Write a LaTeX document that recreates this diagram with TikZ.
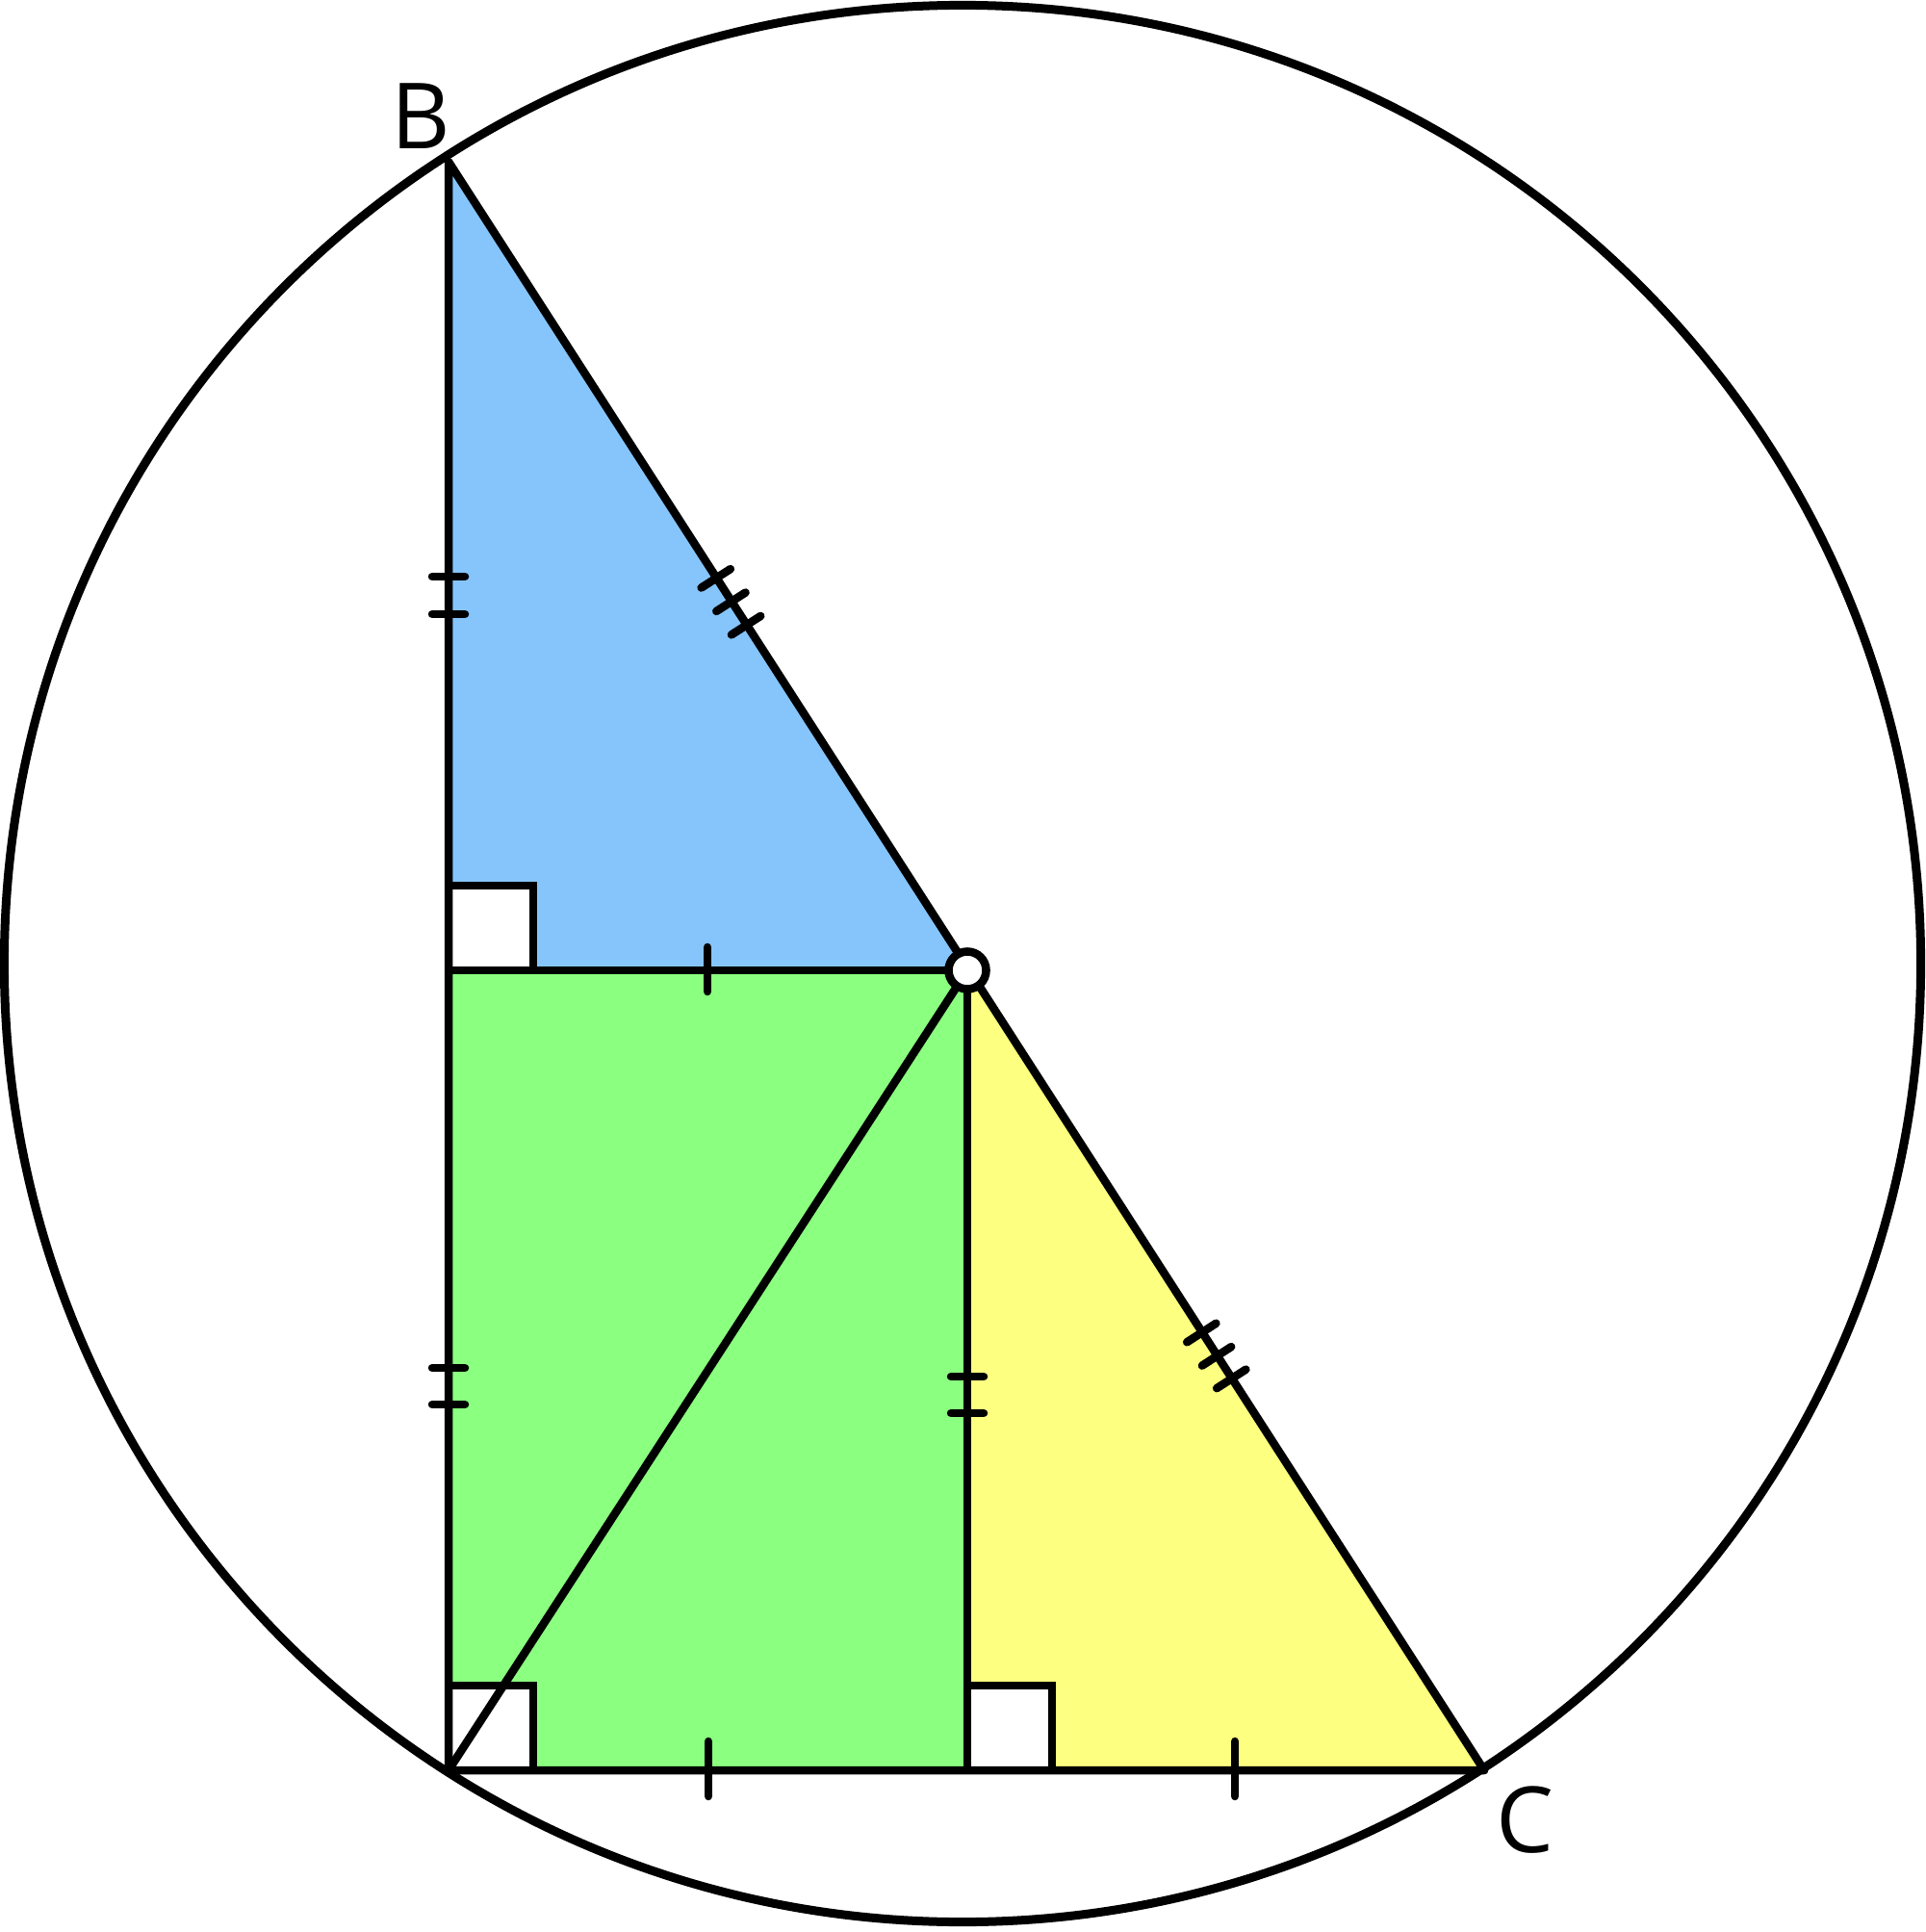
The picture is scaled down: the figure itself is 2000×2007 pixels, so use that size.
\documentclass[tikz,border=0pt]{standalone}
\usepackage{fontspec}
\setmainfont{Open Sans}
\usetikzlibrary{calc}
\definecolor{triblue}{RGB}{133,197,252}
\definecolor{trigreen}{RGB}{139,255,128}
\definecolor{triyellow}{RGB}{253,255,128}
\tikzset{
  ln/.style={line width=0.085cm, line join=round},
  tick/.style={line width=0.085cm, line cap=round},
  sq/.style={line width=0.085cm, fill=white},
  lbl/.style={inner sep=0pt, font=\fontsize{27}{27}\selectfont}
}
\begin{document}
\begin{tikzpicture}[x=0.01cm,y=-0.01cm]
\useasboundingbox (0,0) rectangle (2000,2007);
\fill[white] (0,0) rectangle (2000,2007);
% points
\coordinate (B) at (466,168);
\coordinate (A) at (466,1839);
\coordinate (C) at (1542,1839);
\coordinate (O) at (1005,1008);
\coordinate (M) at (466,1008);
\coordinate (D) at (1005,1839);
\coordinate (Z) at (1000,1001);
% fills
\fill[triblue] (B) -- (M) -- (O) -- cycle;
\fill[trigreen] (M) -- (O) -- (D) -- (A) -- cycle;
\fill[triyellow] (O) -- (D) -- (C) -- cycle;
% circle
\draw[line width=0.09cm] (Z) circle[radius=9.95cm];
% right angle squares
\draw[sq] (M) rectangle ++(88,-88);
\draw[sq] (A) rectangle ++(88,-88);
\draw[sq] (D) rectangle ++(88,-88);
% main lines
\draw[ln] (B) -- (A) -- (C) -- cycle;
\draw[ln] (M) -- (O) -- (D);
\draw[ln] (O) -- (A);
% ticks on BO
\foreach \t in {5.14,5.43,5.72}{
  \coordinate (p) at ($(B)!\t cm!(O)$);
  \draw[tick] ($(p)!0.18cm!90:(O)$) -- ($(p)!0.18cm!-90:(O)$);
}
% ticks on OC
\foreach \t in {4.48,4.77,5.05}{
  \coordinate (p) at ($(O)!\t cm!(C)$);
  \draw[tick] ($(p)!0.18cm!90:(C)$) -- ($(p)!0.18cm!-90:(C)$);
}
% double ticks on vertical lines
\foreach \y in {599,638,1421,1459}{
  \draw[tick] (449,\y) -- (483,\y);
}
\foreach \y in {1430,1468}{
  \draw[tick] (988,\y) -- (1022,\y);
}
% single ticks
\draw[tick] (735,984) -- (735,1030);
\draw[tick] (736,1809) -- (736,1866);
\draw[tick] (1283,1809) -- (1283,1866);
% point O
\draw[line width=0.085cm, fill=white] (O) circle[radius=0.195cm];
% labels
\node[lbl] (lB) at (437,121) {B};
\node[lbl] (lC) at (1584,1891) {C};
\end{tikzpicture}
\end{document}
